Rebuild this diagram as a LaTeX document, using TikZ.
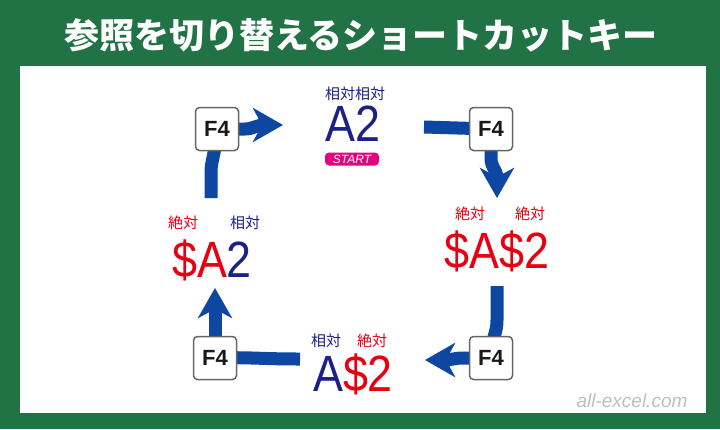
\documentclass[tikz,border=0pt]{standalone}
\usepackage{fontspec}
\setmainfont{Liberation Sans}
\newfontfamily\jp{Noto Sans CJK JP}
\usetikzlibrary{arrows.meta}
\definecolor{xlgreen}{HTML}{217346}
\definecolor{ablue}{HTML}{0D47A1}
\definecolor{tblue}{HTML}{1D2088}
\definecolor{tred}{HTML}{E60012}
\definecolor{mag}{HTML}{E4007F}
\begin{document}
\begin{tikzpicture}[x=1pt,y=-1pt,
  key/.style={draw=gray!80!black,line width=1.5pt,fill=white,rounded corners=4pt,minimum size=43pt,inner sep=0pt,font=\bfseries\fontsize{22}{22}\selectfont,text=black!90},
  big/.style={inner sep=0pt,xscale=0.88,font=\fontsize{51}{51}\selectfont},
  lab/.style={inner sep=0pt,font=\jp\fontsize{15}{15}\selectfont},
  flow/.style={ablue,line width=13pt},
  flowa/.style={flow,-{Stealth[length=30pt,width=34pt,inset=9pt]}}]
\useasboundingbox (0,0) rectangle (720,429);
\fill[xlgreen] (0,0) rectangle (720,429);
\fill[white] (20,66) rectangle (706,413);
\node[text=white,font=\jp\bfseries\fontsize{35}{35}\selectfont] (title) at (361,35) {参照を切り替えるショートカットキー};
% coordinates
\coordinate (c1) at (283,125);
\coordinate (c2) at (424,127);
\coordinate (c3) at (497,198);
\coordinate (c4) at (497,286);
\coordinate (c5) at (425,360);
\coordinate (c6) at (300,359);
\coordinate (c7) at (215,288);
\coordinate (c8) at (211,198);
% keys (positions)
\coordinate (p1) at (217,129);
\coordinate (p2) at (491,129);
\coordinate (p3) at (491,358);
\coordinate (p4) at (215,358);
% arrows
\draw[flow] (c8) -- (211,172) .. controls (211,160) and (215,157) .. (p1);
\draw[flowa] (p1) -- (245,129) .. controls (253,129) and (256,125) .. (265,125) -- (c1);
\draw[flow] (c2) -- (p2);
\draw[flowa] (p2) -- (491,158) .. controls (491,168) and (497,170) .. (497,178) -- (c3);
\draw[flow] (c4) -- (497,320) .. controls (497,335) and (491,338) .. (p3);
\draw[flowa] (p3) -- (462,358) .. controls (455,358) and (452,360) .. (443,360) -- (c5);
\draw[flow] (c6) .. controls (260,359) and (250,357) .. (p4);
\draw[flowa] (p4) -- (c7);
% keys
\node[key] (k1) at (p1) {F4};
\node[key] (k2) at (p2) {F4};
\node[key] (k3) at (p3) {F4};
\node[key] (k4) at (p4) {F4};
% top
\node[lab,text=tblue] (l1) at (355,94) {相対相対};
\node[big,text=tblue] (a1) at (353,124) {A2};
\node[fill=mag,rounded corners=4pt,minimum width=54pt,minimum height=13pt,inner sep=0pt,text=white,font=\itshape\fontsize{12}{12}\selectfont] (st) at (352,159) {START};
% right
\node[lab,text=tred] (l2a) at (470,214) {絶対};
\node[lab,text=tred] (l2b) at (530,214) {絶対};
\node[big,text=tred] (a2) at (497,251) {\$A\$2};
% bottom
\node[lab,text=tblue] (l3a) at (326,341) {相対};
\node[lab,text=tred] (l3b) at (372,341) {絶対};
\node[big] (a3) at (353,374) {\textcolor{tblue}{A}\textcolor{tred}{\$2}};
% left
\node[lab,text=tred] (l4a) at (183,223) {絶対};
\node[lab,text=tblue] (l4b) at (245,223) {相対};
\node[big] (a4) at (212,260) {\textcolor{tred}{\$A}\textcolor{tblue}{2}};
\node[text=gray!50,font=\itshape\fontsize{19}{19}\selectfont] (wm) at (632,401) {all-excel.com};
\end{tikzpicture}
\end{document}
